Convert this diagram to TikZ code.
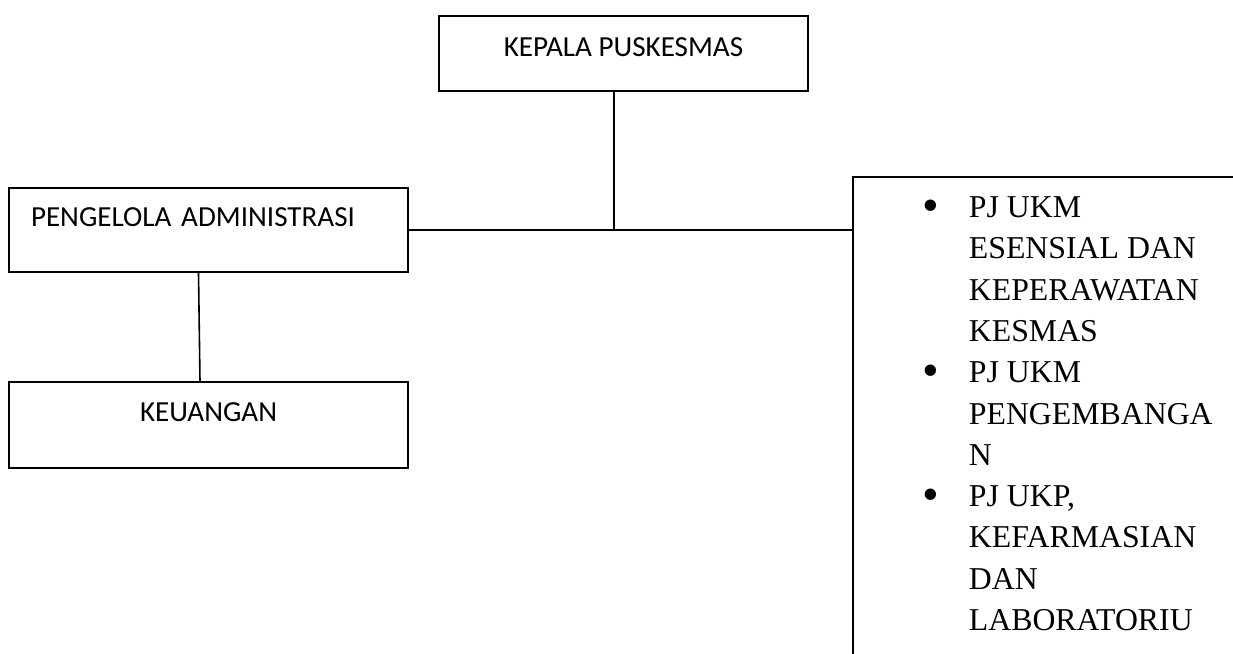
\documentclass[tikz,border=0pt]{standalone}
\usepackage{fontspec}
\setmainfont{Liberation Serif}
\newfontfamily\boxfont{Carlito}
\usetikzlibrary{positioning}
\NewDocumentCommand{\pjb}{}{\raisebox{-0.12em}{\scalebox{1.5}{\textbullet}}}
\tikzset{/ORG/box/.style={
	draw, line width=1.6pt, inner sep=0, font=\boxfont\fontsize{29.1}{35}\selectfont
}}

\begin{document}
\begin{tikzpicture}[x=1pt, y=-1pt, line width=1.6pt]
				\useasboundingbox (0,0) rectangle (1233,653);
				\path (623.5,53.5) node[/ORG/box, minimum width=369pt, text height=40.4pt, text depth=34.6pt] (kepala) {KEPALA PUSKESMAS};
				\path (208.5,230) node[/ORG/box, text width=355pt, inner xsep=22pt, align=left, text height=38.4pt, text depth=45.6pt] (pengelola) {PENGELOLA ADMINISTRASI};
				\path (208.5,425) node[/ORG/box, minimum width=399pt, text height=39.4pt, text depth=46.6pt] (keuangan) {KEUANGAN};
				\path (852,176) node[/ORG/box, anchor=north west, minimum width=420pt, minimum height=520pt] (pj) {};
				\path (922,217.5) node[anchor=base west, inner sep=0, font=\fontsize{31.8}{41.3}\selectfont] (pjlist) {%
					\begin{tabular}[t]{@{}c@{\hspace{29.4pt}}l@{}}
						\pjb & PJ UKM\\
						& ESENSIAL DAN\\
						& KEPERAWATAN\\
						& KESMAS\\
						\pjb & PJ UKM\\
						& PENGEMBANGA\\
						& N\\
						\pjb & PJ UKP,\\
						& KEFARMASIAN\\
						& DAN\\
						& LABORATORIU
					\end{tabular}%
				};
				\coordinate (jn) at (614,230);
				\draw ([xshift=-9.5pt]kepala.south) -- (jn);
				\draw (pengelola.east) -- (jn) -- (jn -| pj.west);
				\draw ([xshift=-10pt]pengelola.south) -- ([xshift=-8.5pt]keuangan.north);
			\end{tikzpicture}
\end{document}
